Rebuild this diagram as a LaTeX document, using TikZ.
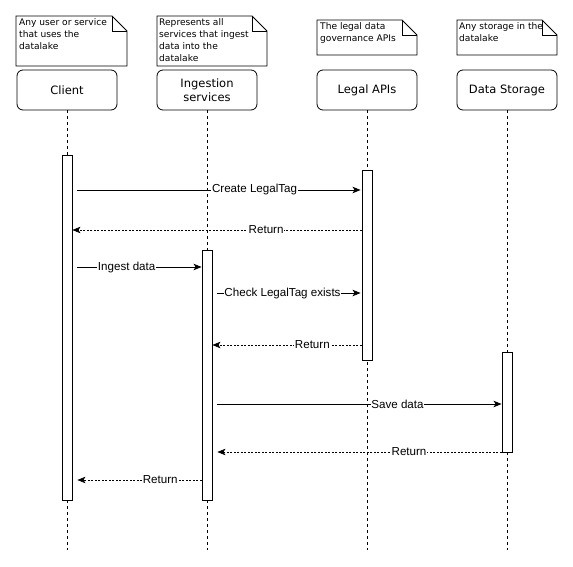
\documentclass[tikz,border=0pt]{standalone}
\usepackage{fontspec}
\setmainfont{Liberation Sans}
\newfontfamily\verd{DejaVu Sans}
\usetikzlibrary{arrows.meta}
\tikzset{
  lbox/.style={draw, line width=0.8pt, rounded corners=6pt, minimum width=100pt, minimum height=40pt, inner sep=0pt, align=center, font=\verd\fontsize{11.5}{13.5}\selectfont},
  lifeline/.style={draw, dash pattern=on 3pt off 3pt, line width=0.8pt},
  act/.style={draw, fill=white, minimum width=10pt, inner sep=0pt, line width=0.9pt},
  notetext/.style={anchor=north west, align=left, inner sep=0pt, font=\verd\fontsize{9.1}{12}\selectfont},
  notebox/.style={draw, fill=white, line width=0.8pt},
  msg/.style={draw, line width=0.8pt, -{Stealth[length=8pt,width=6.5pt,inset=2pt]}},
  ret/.style={draw, line width=0.6pt, dash pattern=on 2pt off 1.5pt, -{Stealth[length=8pt,width=6.5pt,inset=2pt]}},
  lbl/.style={fill=white, inner sep=0.6pt, font=\fontsize{11.6}{13}\selectfont}
}
\begin{document}
\begin{tikzpicture}[x=1pt,y=-1pt]
\useasboundingbox[fill=white] (0,0) rectangle (573,567);

% notes
\newcommand{\notepath}[4]{%
  \draw[notebox] (#1,#2) -- (#3-15,#2) -- (#3,#2+15) -- (#3,#4) -- (#1,#4) -- cycle;
  \draw[line width=0.8pt] (#3-15,#2) -- (#3-15,#2+15) -- (#3,#2+15);}
\notepath{16}{16}{127}{66}
\notepath{157}{16}{267}{66}
\notepath{317}{20}{417}{55}
\notepath{457}{20}{557}{55}
\node[notetext] (n1) at (19,18.5) {Any user or service\\that uses the\\datalake};
\node[notetext] (n2) at (159,18.5) {Represents all\\services that ingest\\data into the\\datalake};
\node[notetext] (n3) at (320,22.5) {The legal data\\governance APIs};
\node[notetext] (n4) at (459,22.5) {Any storage in the\\datalake};

% lifeline heads
\node[lbox] (client) at (67,90) {Client};
\node[lbox] (ingest) at (207,90) {Ingestion\\services};
\node[lbox] (legal) at (367,90) {Legal APIs};
\node[lbox] (store) at (507,90) {Data Storage};

\coordinate (cEnd) at (67,550);
\coordinate (iEnd) at (207,550);
\coordinate (lEnd) at (367,550);
\coordinate (sEnd) at (507,550);
\draw[lifeline] (client.south) -- (cEnd);
\draw[lifeline] (ingest.south) -- (iEnd);
\draw[lifeline] (legal.south) -- (lEnd);
\draw[lifeline] (store.south) -- (sEnd);

% activations
\node[act, minimum height=345pt] (actC) at (67,327.5) {};
\node[act, minimum height=190pt] (actL) at (367,265) {};
\node[act, minimum height=250pt] (actI) at (207,375) {};
\node[act, minimum height=100pt] (actD) at (507,402) {};

% messages
\draw[msg, shorten <=5pt, shorten >=1pt] (actC.east |- 0,190) -- node[lbl, pos=0.63] {Create LegalTag} (actL.west |- 0,190);
\draw[ret] (actL.west |- 0,230) -- node[lbl, pos=0.33] {Return} (actC.east |- 0,230);
\draw[msg, shorten <=5pt] (actC.east |- 0,267) -- node[lbl, pos=0.42] {Ingest data} (actI.west |- 0,267);
\draw[msg, shorten <=5pt, shorten >=1pt] (actI.east |- 0,293) -- node[lbl, pos=0.47] {Check LegalTag exists} (actL.west |- 0,293);
\draw[ret] (actL.west |- 0,345) -- node[lbl, pos=0.33] {Return} (actI.east |- 0,345);
\draw[msg, shorten <=5pt] (actI.east |- 0,404) -- node[lbl, pos=0.64] {Save data} (actD.west |- 0,404);
\draw[ret, shorten >=5pt] (actD.west |- 0,452) -- node[lbl, pos=0.32] {Return} (actI.east |- 0,452);
\draw[ret, shorten >=5pt] (actI.west |- 0,480) -- node[lbl, pos=0.32] {Return} (actC.east |- 0,480);
\end{tikzpicture}
\end{document}
